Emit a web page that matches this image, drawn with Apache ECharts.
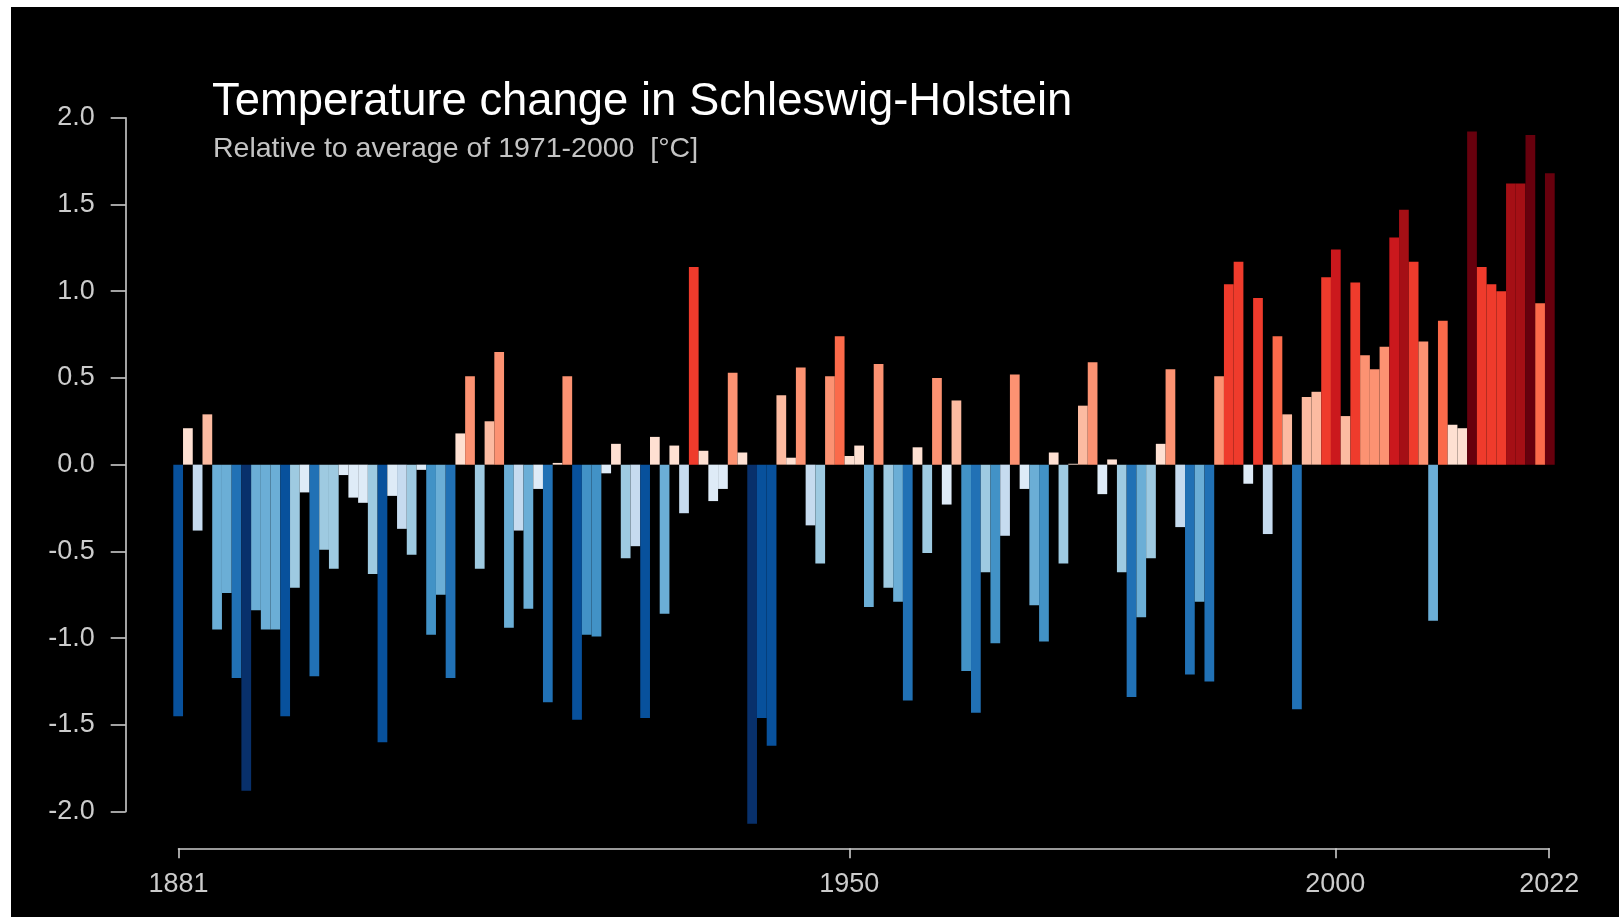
<!DOCTYPE html>
<html>
<head>
<meta charset="utf-8">
<script src="https://cdn.jsdelivr.net/npm/echarts@6/dist/echarts.min.js"></script>
<style>
    html, body { margin: 0; padding: 0; background: #ffffff; }
    #wrap { position: absolute; left: 11px; top: 7px; width: 1608px; height: 910px; background: #000000; }
    #chart { width: 1608px; height: 910px; }
</style>
</head>
<body>
<div id="wrap"><div id="chart"></div></div>
<script>
// years 1881..2022
var firstYear = 1881;
var lastYear = 2022;

// anomalies, one per year
var anomalies1881 = [-1.45, 0.21, -0.38, 0.29, -0.95, -0.74, -1.23, -1.88, -0.84, -0.95,
    -0.95, -1.45, -0.71, -0.16, -1.22, -0.49, -0.60, -0.06, -0.19, -0.22];
var anomalies1901 = [-0.63, -1.60, -0.18, -0.37, -0.52, -0.03, -0.98, -0.75, -1.23, 0.18,
    0.51, -0.60, 0.25, 0.65, -0.94, -0.38, -0.83, -0.14, -1.37, 0.01];
var anomalies1921 = [0.51, -1.47, -0.98, -0.99, -0.05, 0.12, -0.54, -0.47, -1.46, 0.16,
    -0.86, 0.11, -0.28, 1.14, 0.08, -0.21, -0.14, 0.53, 0.07, -2.07];
var anomalies1941 = [-1.46, -1.62, 0.40, 0.04, 0.56, -0.35, -0.57, 0.51, 0.74, 0.05,
    0.11, -0.82, 0.58, -0.71, -0.79, -1.36, 0.10, -0.51, 0.50, -0.23];
var anomalies1961 = [0.37, -1.19, -1.43, -0.62, -1.03, -0.41, 0.52, -0.14, -0.81, -1.02,
    0.07, -0.57, 0.005, 0.34, 0.59, -0.17, 0.03, -0.62, -1.34, -0.88];
var anomalies1981 = [-0.54, 0.12, 0.55, -0.36, -1.21, -0.79, -1.25, 0.51, 1.04, 1.17,
    -0.11, 0.96, -0.40, 0.74, 0.29, -1.41, 0.39, 0.42, 1.08, 1.24];
var anomalies2001 = [0.28, 1.05, 0.63, 0.55, 0.68, 1.31, 1.47, 1.17, 0.71, -0.90,
    0.83, 0.23, 0.21, 1.92, 1.14, 1.04, 1.00, 1.62, 1.62, 1.90,
    0.93, 1.68];

var yearLabels = [1881, 1950, 2000, 2022];

var reds = ['#fee0d2', '#fcbba1', '#fc9272', '#fb6a4a', '#ef3b2c', '#cb181d', '#a50f15', '#67000d'];
var blues = ['#deebf7', '#c6dbef', '#9ecae1', '#6baed6', '#4292c6', '#2171b5', '#08519c', '#08306b'];

var values = [].concat(anomalies1881, anomalies1901, anomalies1921, anomalies1941,
    anomalies1961, anomalies1981, anomalies2001);
var years = [];
for (var y = firstYear; y <= lastYear; y++) {
    years.push(String(y));
}

// 0.24 degree steps, 8 shades each side
function stripeColor(v) {
    var k = Math.min(7, Math.floor(Math.abs(v) / 0.24 + 1e-9));
    return v >= 0 ? reds[k] : blues[k];
}

var myChart = echarts.init(document.getElementById('chart'));
var font = '"Liberation Sans", Arial, Helvetica, sans-serif';

var option = {
    backgroundColor: '#000000',
    animation: false,
    title: [{
        text: 'Temperature change in Schleswig-Holstein',
        left: 196,
        top: 68,
        textStyle: { color: '#ffffff', fontSize: 45.4, fontWeight: 'normal', fontFamily: font }
    }, {
        text: 'Relative to average of 1971-2000  [°C]',
        left: 197,
        top: 123,
        textStyle: { color: '#c4c4c4', fontSize: 28.5, fontWeight: 'normal', fontFamily: font }
    }],
    grid: [
        { left: 162.3, right: 64.3, top: 110.7, bottom: 105.4 },
        { left: 167.5, right: 69.8, top: 110.7, bottom: 105.4 }
    ],
    xAxis: [{
        type: 'category',
        gridIndex: 0,
        data: years,
        show: false
    }, {
        type: 'value',
        gridIndex: 1,
        min: firstYear,
        max: lastYear,
        offset: 36.7,
        splitLine: { show: false },
        axisLine: { show: true, onZero: false, lineStyle: { color: '#cccccc', width: 1.6 } },
        axisTick: { show: true, length: 10, customValues: yearLabels,
            lineStyle: { color: '#cccccc', width: 1.6 } },
        axisLabel: {
            customValues: yearLabels,
            color: '#cccccc', fontSize: 27, fontFamily: font, margin: 23,
            formatter: function (v) { return String(v); }
        }
    }],
    yAxis: [{
        type: 'value',
        gridIndex: 0,
        min: -2,
        max: 2,
        interval: 0.5,
        offset: 47.6,
        splitLine: { show: false },
        axisLine: { show: true, onZero: false, lineStyle: { color: '#cccccc', width: 1.6 } },
        axisTick: { show: true, length: 15, lineStyle: { color: '#cccccc', width: 1.6 } },
        axisLabel: {
            color: '#cccccc', fontSize: 27, fontFamily: font, margin: 31,
            formatter: function (v) { return v.toFixed(1); }
        }
    }, {
        type: 'value',
        gridIndex: 1,
        min: -2,
        max: 2,
        show: false
    }],
    series: [{
        type: 'bar',
        xAxisIndex: 0,
        yAxisIndex: 0,
        data: values,
        barWidth: '100%',
        barCategoryGap: 0,
        clip: false,
        itemStyle: {
            color: function (p) { return stripeColor(p.value); },
            borderWidth: 0
        }
    }]
};

option && myChart.setOption(option);
</script>
</body>
</html>
